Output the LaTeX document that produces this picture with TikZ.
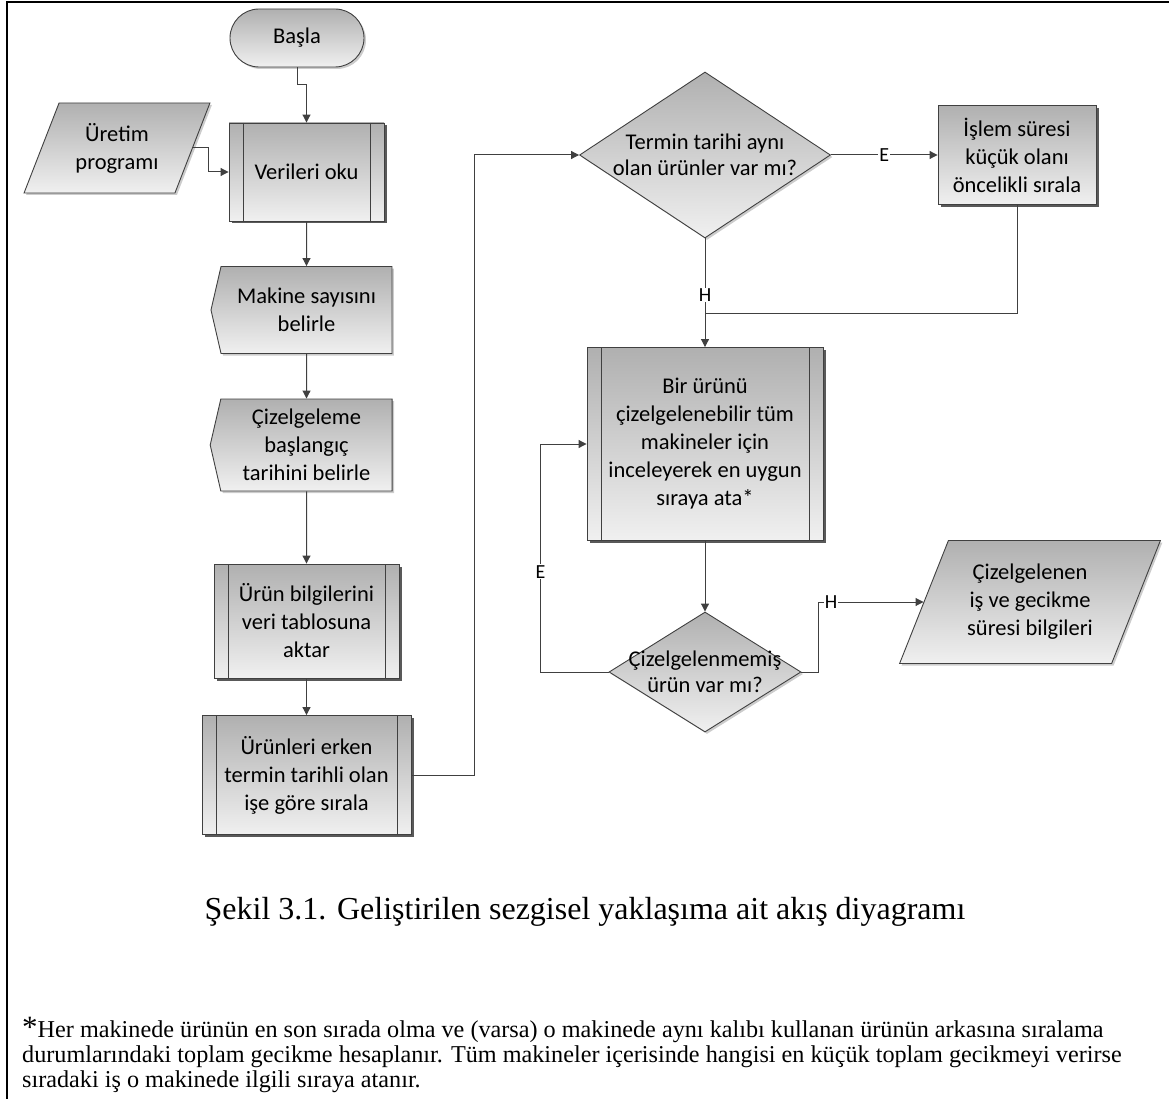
\documentclass[tikz,border=0pt]{standalone}
\usepackage{fontspec}
\setmainfont{Liberation Serif}
\newfontfamily\boxfont{Carlito}
\usetikzlibrary{arrows.meta,shapes.geometric,shapes.misc,shapes.symbols,shadows}

\definecolor{shadetop}{RGB}{176,176,176}
\definecolor{shadebot}{RGB}{240,240,240}
\definecolor{edgegray}{RGB}{64,64,64}

\tikzset{
  flow/.style={draw=edgegray, line width=0.9pt, top color=shadetop, bottom color=shadebot,
    font=\boxfont\fontsize{22.5}{28}\selectfont, align=center, inner sep=2pt},
  softshadow/.style={drop shadow={shadow xshift=2pt, shadow yshift=-2pt, fill=black!20, opacity=1}},
  procbox/.style={flow, rectangle, drop shadow={shadow xshift=2.5pt, shadow yshift=-2.5pt, fill=black!65, opacity=1}},
  subproc/.style={procbox, path picture={
    \draw[edgegray, line width=0.9pt] ([xshift=14pt]path picture bounding box.north west) -- ([xshift=14pt]path picture bounding box.south west);
    \draw[edgegray, line width=0.9pt] ([xshift=-14pt]path picture bounding box.north east) -- ([xshift=-14pt]path picture bounding box.south east);}},
  startbox/.style={flow, rounded rectangle, softshadow},
  iobox/.style={flow, trapezium, trapezium left angle=64, trapezium right angle=116,
    trapezium stretches=true, softshadow},
  manualbox/.style={flow, signal, signal to=west, signal from=nowhere, signal pointer angle=154, softshadow},
  decision/.style={flow, diamond, inner sep=0pt, softshadow},
  dectext/.style={align=center, font=\boxfont\fontsize{22.5}{26}\selectfont},
  link/.style={draw=edgegray, line width=1pt},
  arr/.style={link, -{Triangle[length=8pt,width=8pt]}},
  lbl/.style={fill=white, inner sep=1pt, font=\boxfont\fontsize{20}{20}\selectfont},
}

\begin{document}
\begin{tikzpicture}[x=1pt, y=-1pt]
\useasboundingbox (0,0) rectangle (1169,1099);
\draw[line width=2.5pt] (7,1099) -- (7,2) -- (1169,2);

%% left column
\node[startbox, minimum width=138pt, minimum height=58pt] (basla) at (297,38) {Başla};
\node[iobox, minimum width=186pt, minimum height=90pt] (uretim) at (117,148) {Üretim\\programı};
\node[subproc, minimum width=155pt, minimum height=98pt] (verileri) at (306.5,172) {Verileri oku};
\node[manualbox, minimum width=181pt, minimum height=87pt] (makine) at (306.5,310) {Makine sayısını\\belirle};
\node[manualbox, minimum width=182pt, minimum height=92pt] (baslangic) at (306.5,445) {Çizelgeleme\\başlangıç\\tarihini belirle};
\node[subproc, minimum width=185pt, minimum height=114pt] (aktar) at (306.5,621) {Ürün bilgilerini\\veri tablosuna\\aktar};
\node[subproc, minimum width=209pt, minimum height=119pt] (sirala) at (306.5,775) {Ürünleri erken\\termin tarihli olan\\işe göre sırala};

%% right part
\node[decision, minimum width=251pt, minimum height=166pt,
  label={[dectext]center:{Termin tarihi aynı\\olan ürünler var mı?}}] (termin) at (705,155) {};
\node[procbox, minimum width=158pt, minimum height=99pt] (islem) at (1017,155) {İşlem süresi\\küçük olanı\\öncelikli sırala};
\node[subproc, minimum width=236pt, minimum height=193pt] (ata) at (705,444)
  {Bir ürünü\\çizelgelenebilir tüm\\makineler için\\inceleyerek en uygun\\sıraya ata*};
\node[decision, minimum width=192pt, minimum height=120pt,
  label={[dectext]center:{Çizelgelenmemiş\\ürün var mı?}}] (kalan) at (705,672) {};
\node[iobox, minimum width=261pt, minimum height=123pt] (cikti) at (1030,602) {Çizelgelenen\\iş ve gecikme\\süresi bilgileri};
\coordinate (birles) at (705,313);

%% connectors
\draw[arr] (basla.south) -- ++(0,17) -| (verileri.north);
\draw[arr] (uretim.east) -- ++(16,0) |- (verileri.west);
\draw[arr] (verileri) -- (makine);
\draw[arr] (makine) -- (baslangic);
\draw[arr] (baslangic) -- (aktar);
\draw[arr] (aktar) -- (sirala);
\draw[arr] (sirala.east) -- ++(63,0) |- (termin.west);
\draw[arr] (termin.east) -- node[lbl]{E} (islem.west);
\draw[arr] (termin.south) -- node[lbl, pos=0.52]{H} (ata.north);
\draw[link] (islem.south) |- (birles);
\draw[arr] (ata.south) -- (kalan.north);
\draw[arr] (kalan.west) -- ++(-68,0) |- node[lbl, pos=0.22]{E} (ata.west);
\draw[arr] (kalan.east) -- ++(17,0) |- node[lbl, pos=0.56]{H} (cikti.west);

%% caption and note
\node[font=\fontsize{32}{36}\selectfont] (baslik) at (585,912) {Şekil 3.1. Geliştirilen sezgisel yaklaşıma ait akış diyagramı};
\node[anchor=north west, align=left, inner sep=0pt, font=\fontsize{24.2}{25}\selectfont] (dipnot) at (22,1017)
  {{\fontsize{31}{25}\selectfont*}Her makinede ürünün en son sırada olma ve (varsa) o makinede aynı kalıbı kullanan ürünün arkasına sıralama\\
   durumlarındaki toplam gecikme hesaplanır. Tüm makineler içerisinde hangisi en küçük toplam gecikmeyi verirse\\
   sıradaki iş o makinede ilgili sıraya atanır.};
\end{tikzpicture}
\end{document}
